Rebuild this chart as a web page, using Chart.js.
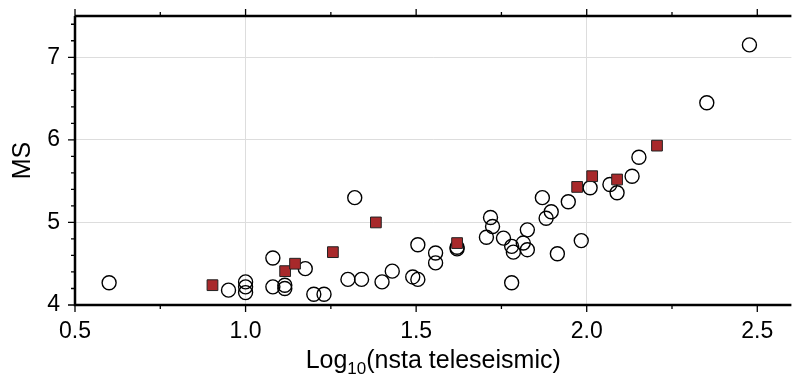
<!DOCTYPE html>
<html lang="en">
<head>
  <meta charset="UTF-8">
  <title>MS vs Log10(nsta teleseismic)</title>
  <script src="https://cdn.jsdelivr.net/npm/chart.js"></script>
  <style>
    html, body {
      margin: 0;
      padding: 0;
      background: #fff;
      overflow: hidden;
    }
    #wrap {
      width: 800px;
      height: 381px;
    }
  </style>
</head>
<body>
  <div id="wrap">
    <canvas id="msChart" width="800" height="381"></canvas>
  </div>
  <script>
    // open circles
    const circleX = [0.60, 0.95, 1.00, 1.00, 1.00, 1.08, 1.08, 1.115, 1.115, 1.175,
      1.20, 1.23, 1.32, 1.30, 1.34, 1.40, 1.43, 1.505, 1.49, 1.505,
      1.557, 1.557, 1.62, 1.62, 1.718, 1.724, 1.706, 1.756, 1.78, 1.785,
      1.814, 1.826, 1.826, 1.78, 1.87, 1.896, 1.881, 1.914, 1.946, 1.984,
      2.01, 2.068, 2.089, 2.133, 2.153, 2.352, 2.477];
    const circleY = [4.27, 4.18, 4.28, 4.22, 4.15, 4.57, 4.22, 4.24, 4.20, 4.44,
      4.13, 4.13, 5.30, 4.31, 4.31, 4.28, 4.41, 4.73, 4.34, 4.31,
      4.63, 4.51, 4.68, 4.70, 5.06, 4.95, 4.82, 4.81, 4.71, 4.64,
      4.75, 4.91, 4.67, 4.27, 5.30, 5.13, 5.05, 4.62, 5.25, 4.78,
      5.42, 5.46, 5.36, 5.56, 5.79, 6.45, 7.15];

    // red squares
    const squareX = [0.903, 1.116, 1.145, 1.256, 1.382, 1.62, 1.972, 2.016, 2.089, 2.206];
    const squareY = [4.24, 4.41, 4.50, 4.64, 5.00, 4.75, 5.43, 5.56, 5.52, 5.93];

    const xMin = 0.5, xMax = 2.6;
    const yMin = 4, yMax = 7.5;

    const toPoints = (xs, ys) => xs.map((x, i) => ({ x: x, y: ys[i] }));

    const fontFamily = "'Liberation Sans', Arial, Helvetica, sans-serif";

    // frame, tick marks and axis titles
    const framePlugin = {
      id: 'frame',
      afterDraw(chart) {
        const ctx = chart.ctx;
        const area = chart.chartArea;
        const xs = chart.scales.x;
        const ys = chart.scales.y;
        ctx.save();
        ctx.strokeStyle = '#000';

        // tick marks
        ctx.lineWidth = 1.3;
        ctx.beginPath();
        for (let v = xMin; v <= xMax + 1e-9; v += 0.25) {
          const px = xs.getPixelForValue(v);
          const major = Math.abs(v * 2 - Math.round(v * 2)) < 1e-6;
          const len = major ? 7 : 4;
          ctx.moveTo(px, area.bottom);
          ctx.lineTo(px, area.bottom + len);
          ctx.moveTo(px, area.top);
          ctx.lineTo(px, area.top - len);
        }
        for (let v = yMin; v <= yMax + 1e-9; v += 0.2) {
          const py = ys.getPixelForValue(v);
          const major = Math.abs(v - Math.round(v)) < 1e-6;
          const len = major ? 7 : 4;
          ctx.moveTo(area.left, py);
          ctx.lineTo(area.left - len, py);
        }
        ctx.stroke();

        // axis lines
        ctx.lineWidth = 2.5;
        ctx.beginPath();
        ctx.moveTo(area.left, area.top);
        ctx.lineTo(area.left, area.bottom);
        ctx.lineTo(area.right, area.bottom);
        ctx.moveTo(area.left, area.top);
        ctx.lineTo(area.right, area.top);
        ctx.stroke();

        // x title with subscript
        ctx.fillStyle = '#000';
        ctx.textBaseline = 'alphabetic';
        const big = '25px ' + fontFamily;
        const small = '17px ' + fontFamily;
        const parts = [['Log', big, 0], ['10', small, 6], ['(nsta teleseismic)', big, 0]];
        let total = 0;
        parts.forEach(p => { ctx.font = p[1]; total += ctx.measureText(p[0]).width; });
        let cx = (area.left + area.right) / 2 - total / 2;
        const baseY = 368;
        parts.forEach(p => {
          ctx.font = p[1];
          ctx.fillText(p[0], cx, baseY + p[2]);
          cx += ctx.measureText(p[0]).width;
        });

        // y title
        ctx.font = big;
        ctx.textAlign = 'center';
        ctx.textBaseline = 'middle';
        ctx.translate(23, (area.top + area.bottom) / 2);
        ctx.rotate(-Math.PI / 2);
        ctx.fillText('MS', 0, 0);
        ctx.restore();
      }
    };

    new Chart(document.getElementById('msChart').getContext('2d'), {
      type: 'scatter',
      data: {
        datasets: [
          {
            label: 'squares',
            data: toPoints(squareX, squareY),
            pointStyle: 'rect',
            pointRadius: 7.6,
            backgroundColor: '#a8292b',
            borderColor: '#222',
            borderWidth: 1
          },
          {
            label: 'circles',
            data: toPoints(circleX, circleY),
            pointStyle: 'circle',
            pointRadius: 7,
            backgroundColor: 'rgba(0,0,0,0)',
            borderColor: '#000',
            borderWidth: 1.4
          }
        ]
      },
      options: {
        responsive: false,
        animation: false,
        layout: { padding: { left: 0, top: 16, right: 6, bottom: 0 } },
        plugins: {
          legend: { display: false },
          tooltip: { enabled: false }
        },
        scales: {
          x: {
            type: 'linear',
            min: xMin,
            max: xMax,
            border: { display: false },
            grid: {
              drawTicks: false,
              lineWidth: 1,
              color: c => (c.tick && Math.abs(c.tick.value - Math.round(c.tick.value)) < 1e-6 && c.tick.value > xMin) ? '#dddddd' : 'rgba(0,0,0,0)'
            },
            ticks: {
              stepSize: 0.5,
              includeBounds: false,
              padding: 13,
              color: '#000',
              font: { family: fontFamily, size: 23 },
              maxRotation: 0,
              callback: v => Number(v).toFixed(1)
            },
            afterFit: s => { s.height = 76; s.paddingLeft = 0; s.paddingRight = 0; }
          },
          y: {
            type: 'linear',
            min: yMin,
            max: yMax,
            border: { display: false },
            grid: {
              drawTicks: false,
              lineWidth: 1,
              color: c => (c.tick && c.tick.value > yMin) ? '#dddddd' : 'rgba(0,0,0,0)'
            },
            ticks: {
              stepSize: 1,
              includeBounds: false,
              padding: 15,
              color: '#000',
              font: { family: fontFamily, size: 23 },
              callback: v => String(v)
            },
            afterFit: s => { s.width = 75; s.paddingTop = 0; s.paddingBottom = 0; }
          }
        }
      },
      plugins: [framePlugin]
    });
  </script>
</body>
</html>
